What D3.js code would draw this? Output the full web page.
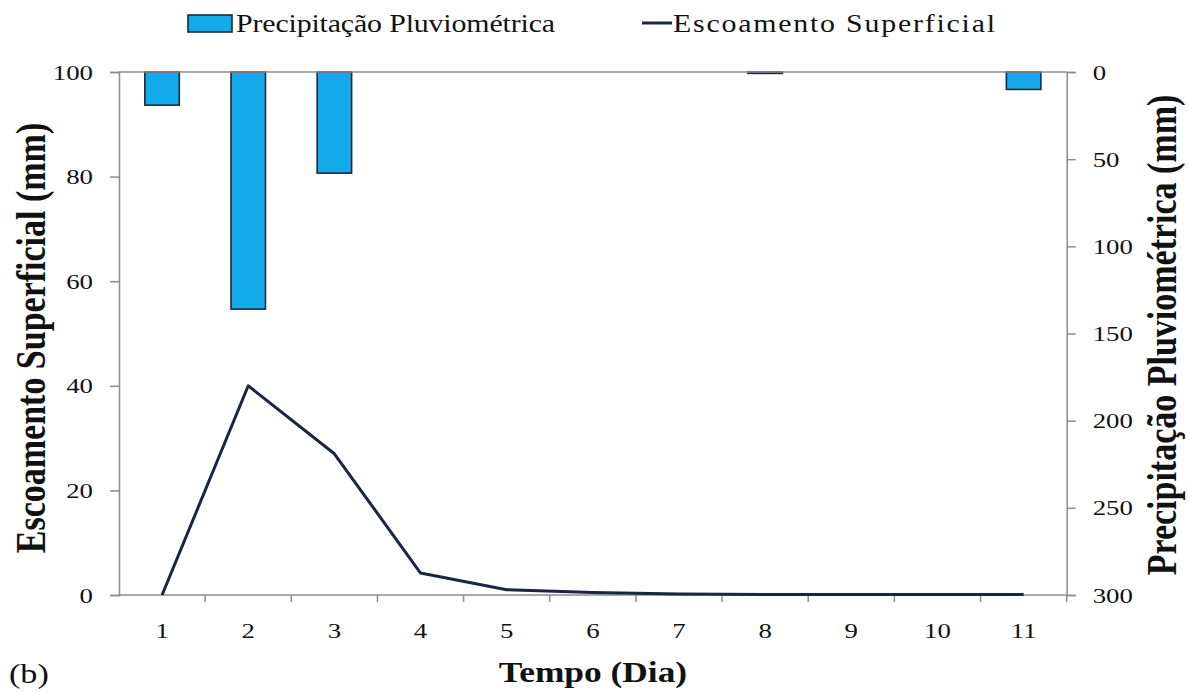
<!DOCTYPE html>
<html>
<head>
<meta charset="utf-8">
<script src="https://cdn.jsdelivr.net/npm/d3@7"></script>
<style>
  html, body { margin: 0; padding: 0; background: #fff; }
  svg { display: block; }
  text { font-family: "Liberation Serif", "Times New Roman", serif; fill: #111; }
</style>
</head>
<body>
<svg id="chart" width="1189" height="693"></svg>
<script>
// Daily values (day 1..11)
const days = [1, 2, 3, 4, 5, 6, 7, 8, 9, 10, 11];
const precipitacao = [19, 136, 58, 0, 0, 0, 0, 0.8, 0, 0, 10];        // mm (right axis, inverted)
const escoamento = [0, 40, 27, 4.2, 1, 0.5, 0.2, 0.1, 0.1, 0.1, 0.1]; // mm (left axis)
const leftTicks = [0, 20, 40, 60, 80, 100];
const rightTicks = [0, 50, 100, 150, 200, 250, 300];

const svg = d3.select("#chart");
const m = { left: 119, right: 1066.7, top: 72, bottom: 595 };
const S = 1.22; // horizontal widening of the serif lettering

const x = d3.scaleBand().domain(days).range([m.left, m.right]).paddingInner(0).paddingOuter(0);
const yL = d3.scaleLinear().domain([0, 100]).range([m.bottom, m.top]);
const yR = d3.scaleLinear().domain([0, 300]).range([m.top, m.bottom]);

const axisColor = "#8c8c8c";

// Bars hanging from the top (precipitation)
const barW = x.bandwidth() * 0.4;
svg.append("g").selectAll("rect")
  .data(days.map((d, i) => ({ d, v: precipitacao[i] })).filter(o => o.v > 0))
  .join("rect")
  .attr("x", o => x(o.d) + (x.bandwidth() - barW) / 2)
  .attr("y", yR(0))
  .attr("width", barW)
  .attr("height", o => Math.max(yR(o.v) - yR(0), 1))
  .attr("fill", "#12aaea")
  .attr("stroke", "#1b2838")
  .attr("stroke-width", 1.6);

// Top frame line
svg.append("line")
  .attr("x1", m.left).attr("x2", m.right)
  .attr("y1", m.top).attr("y2", m.top)
  .attr("stroke", axisColor).attr("stroke-width", 1.5);

// Left axis
const gL = svg.append("g").attr("transform", `translate(${m.left},0)`)
  .call(d3.axisLeft(yL).tickValues(leftTicks).tickSize(9).tickPadding(17));
// Right axis
const gR = svg.append("g").attr("transform", `translate(${m.right},0)`)
  .call(d3.axisRight(yR).tickValues(rightTicks).tickSize(9).tickPadding(17));
// Bottom axis: category labels, ticks between categories
const gB = svg.append("g").attr("transform", `translate(0,${m.bottom})`)
  .call(d3.axisBottom(x).tickSize(0).tickPadding(27));
gB.selectAll(".tick").append("line")
  .attr("x1", x.bandwidth() / 2).attr("x2", x.bandwidth() / 2)
  .attr("y1", 0).attr("y2", 7)
  .attr("stroke", axisColor).attr("stroke-width", 1.5);

[gL, gR, gB].forEach(g => {
  g.select(".domain").attr("stroke", axisColor).attr("stroke-width", 1.5);
  g.selectAll(".tick line").attr("stroke", axisColor).attr("stroke-width", 1.5);
  g.selectAll(".tick text")
    .style("font-family", '"Liberation Serif", serif')
    .style("font-size", "22px").attr("fill", "#111")
    .attr("x", function () { return (+d3.select(this).attr("x") || 0) / S; })
    .attr("transform", `scale(${S},1)`);
});
gB.select(".domain").attr("d", `M${m.left},0H${m.right}`);

// Runoff line
const line = d3.line()
  .x((d, i) => x(days[i]) + x.bandwidth() / 2)
  .y(d => yL(d));
svg.append("path")
  .datum(escoamento)
  .attr("d", line)
  .attr("fill", "none")
  .attr("stroke", "#1c2540")
  .attr("stroke-width", 3)
  .attr("stroke-linejoin", "round");

// Widened text helper
function label(tx, ty, str, size, opts = {}) {
  const g = svg.append("g")
    .attr("transform", `translate(${tx},${ty}) scale(${S},1)` + (opts.rotate ? ` rotate(${opts.rotate})` : ""));
  const t = g.append("text")
    .attr("text-anchor", opts.anchor || "start")
    .style("font-size", size + "px")
    .style("font-weight", opts.bold ? "bold" : "normal")
    .text(str);
  if (opts.width) t.attr("textLength", opts.width / S).attr("lengthAdjust", "spacing");
  return g;
}

// Axis titles
label(45, 338, "Escoamento Superficial (mm)", 34, { bold: true, anchor: "middle", rotate: -90 });
label(1176, 335, "Precipitação Pluviométrica (mm)", 34, { bold: true, anchor: "middle", rotate: -90 });
label(593, 682, "Tempo (Dia)", 29, { bold: true, anchor: "middle" });
label(9, 683, "(b)", 28);

// Legend
svg.append("rect")
  .attr("x", 188).attr("y", 15).attr("width", 44).attr("height", 17)
  .attr("fill", "#12aaea").attr("stroke", "#1b2838").attr("stroke-width", 1.6);
label(236, 32, "Precipitação Pluviométrica", 24.5, { width: 319 });
svg.append("line")
  .attr("x1", 642).attr("x2", 672).attr("y1", 23).attr("y2", 23)
  .attr("stroke", "#1c2540").attr("stroke-width", 3);
label(673, 32, "Escoamento Superficial", 24.5, { width: 322 });
</script>
</body>
</html>
